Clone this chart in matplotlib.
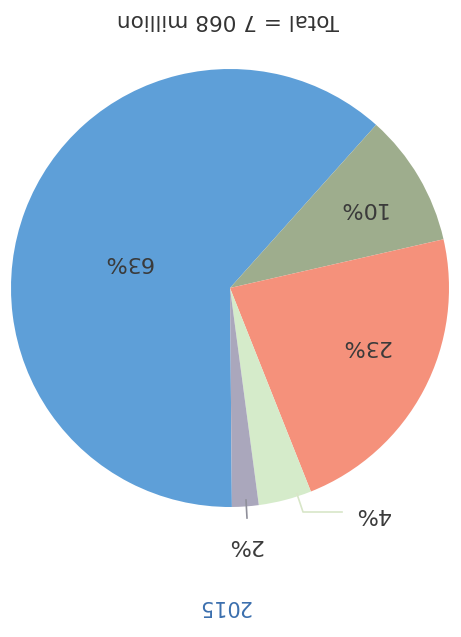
import matplotlib
matplotlib.use("Agg")
import matplotlib.pyplot as plt

# Data (chart appears rotated 180 degrees)
categories = ["A", "B", "C", "D", "E"]
values = [63, 10, 23, 4, 2]
labels = ["63%", "10%", "23%", "4%", "2%"]
colors = ["#5e9fd8", "#9ead8d", "#f5917b", "#d5ebca", "#aaa7bc"]
title = "Total = 7 068 million"
year = "2015"

W, H = 461, 637
fig = plt.figure(figsize=(W / 100, H / 100), dpi=100)
ax = fig.add_axes([0, 0, 1, 1])

cx, cy, r = 230, H - 288, 219
wedges, _ = ax.pie(values, colors=colors, startangle=-89.5, counterclock=False,
                   center=(cx, cy), radius=r, frame=True,
                   wedgeprops=dict(linewidth=0))
ax.set_xlim(0, W)
ax.set_ylim(0, H)
ax.set_aspect("equal")
ax.axis("off")

txt = "#3a3a3a"
pos = {"63%": (128, 262), "10%": (362, 208), "23%": (366, 346),
       "4%": (372, 514), "2%": (245, 545)}
for lab in labels:
    x, y = pos[lab]
    ax.text(x, H - y, lab, rotation=180, ha="center", va="center",
            fontsize=16, color=txt, family="DejaVu Sans")

# leader lines
ax.plot([297, 303, 342], [H - 494, H - 512, H - 512], color="#d8e6c8", lw=1.2)
ax.plot([246, 247], [H - 500, H - 518], color="#8f8f9a", lw=1.2)

ax.text(228, H - 20, title, rotation=180, ha="center", va="center",
        fontsize=15.5, color="#333333", family="DejaVu Sans")
ax.text(224, H - 606, year, rotation=180, ha="center", va="center",
        fontsize=15, color="#3b6fae", family="DejaVu Sans")

fig.savefig("out.png", dpi=100)
